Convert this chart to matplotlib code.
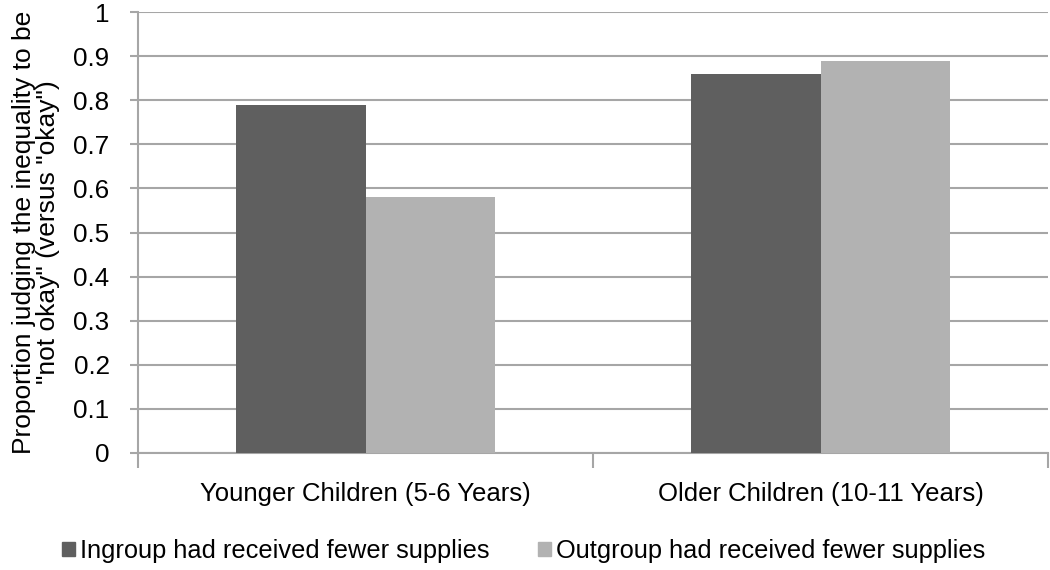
import matplotlib
matplotlib.use("Agg")
import matplotlib.pyplot as plt
import numpy as np
from matplotlib.patches import Patch

categories = ["Younger Children (5-6 Years)", "Older Children (10-11 Years)"]
series_names = ["Ingroup had received fewer supplies", "Outgroup had received fewer supplies"]
ingroup = [0.79, 0.86]
outgroup = [0.58, 0.89]
yticks = [0, 0.1, 0.2, 0.3, 0.4, 0.5, 0.6, 0.7, 0.8, 0.9, 1]
ytick_labels = ["0", "0.1", "0.2", "0.3", "0.4", "0.5", "0.6", "0.7", "0.8", "0.9", "1"]
ylabel = 'Proportion judging the inequality to be\n"not okay" (versus "okay")'

colors = ["#5f5f5f", "#b2b2b2"]
grid_c = "#a6a6a6"
plt.rcParams["font.family"] = ["Liberation Sans", "DejaVu Sans"]

fig = plt.figure(figsize=(10.5, 5.7), dpi=100)
ax = fig.add_axes([138/1050, (570-453)/570, (1048-138)/1050, (453-12)/570])

x = np.arange(len(categories))
w = 0.285
ax.bar(x - w/2, ingroup, w, color=colors[0], zorder=3)
ax.bar(x + w/2, outgroup, w, color=colors[1], zorder=3)

ax.set_xlim(-0.5, len(categories) - 0.5)
ax.set_ylim(0, 1)
ax.set_yticks(yticks)
ax.set_yticklabels(ytick_labels)
ax.yaxis.grid(True, color=grid_c, linewidth=1.5, zorder=0)
ax.set_axisbelow(True)

ax.set_xticks(np.arange(-0.5, len(categories)))
ax.set_xticklabels([])
ax.set_xticks(x, minor=True)
ax.set_xticklabels(categories, minor=True)
ax.tick_params(axis="x", which="major", length=11, color=grid_c, width=1.5, direction="out")
ax.tick_params(axis="x", which="minor", length=0, pad=21, labelsize=18.5)
ax.tick_params(axis="y", length=6, color=grid_c, width=1.5, labelsize=18.7, pad=14.5)

for s in ["top", "right"]:
    ax.spines[s].set_visible(False)
for s in ["left", "bottom"]:
    ax.spines[s].set_color(grid_c)
    ax.spines[s].set_linewidth(1.5)

fig.text(36/1050, 1 - 232/570, ylabel, rotation=90, ha="center", va="center",
         fontsize=19, linespacing=1.0, multialignment="center")

handles = [Patch(color=colors[0]), Patch(color=colors[1])]
fig.legend(handles, series_names, loc="center left", bbox_to_anchor=(62/1050, 1 - 551/570),
           ncol=2, frameon=False, fontsize=18.3, handlelength=0.52, handleheight=0.52,
           handletextpad=0.2, columnspacing=1.9, borderpad=0, borderaxespad=0)

fig.savefig("out.png", dpi=100)
